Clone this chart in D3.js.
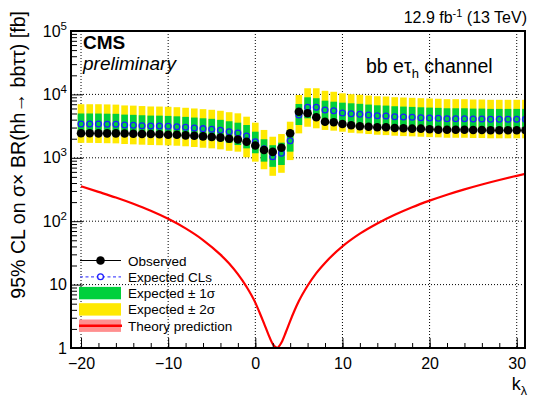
<!DOCTYPE html>
<html><head><meta charset="utf-8">
<script src="https://cdn.jsdelivr.net/npm/d3@7/dist/d3.min.js"></script>
<style>
html,body{margin:0;padding:0;background:#fff;}
svg{display:block;font-family:"Liberation Sans",Arial,Helvetica,sans-serif;}
</style></head><body>
<svg id="chart" width="537" height="401"></svg>
<script>
// ---------------- data ----------------
const kLambda = [-20,-19,-18,-17,-16,-15,-14,-13,-12,-11,-10,-9,-8,-7,-6,-5,-4,-3,-2,-1,
  0,1,2,3,4,5,6,7,8,9,10,11,12,13,14,15,16,17,18,19,20,21,22,23,24,25,26,27,28,29,30,31];
const observed = [2440,2440,2430,2430,2430, 2420,2400,2370,2370,2350, 2310,2310,2260,2230,2180, 2130,2080,2000,1940,1790,
  1560,1330,1240,1440,2440, 5320,5030,4350,3710,3630, 3410,3260,3140,3090,3030, 3030,2950,2920,2880,2880,
  2820,2770,2770,2770,2770, 2750,2750,2720,2720,2720, 2720,2720];
const expected = [3410,3410,3410,3390,3380, 3290,3260,3210,3170,3170, 3140,3090,3030,2950,2880, 2820,2720,2580,2460,2210,
  1790,1390,1040,1180,1860, 4730,6260,6260,5680,5530, 5090,4960,4860,4730,4610, 4560,4450,4400,4350,4290,
  4240,4200,4140,4140,4140, 4090,4090,4050,4050,4050, 4050,4050];
const exp1Up = [5000,5000,4990,4960,4940, 4800,4760,4690,4630,4620, 4580,4510,4420,4310,4200, 4120,3970,3770,3580,3290,
  2580,1960,1580,1730,2750, 7060,9000,8700,7960,7670, 7400,7240,7100,6910,6730, 6660,6500,6420,6350,6260,
  6190,6130,6040,6040,6040, 5970,5970,5910,5910,5910, 5910,5910];
const exp1Down = [2300,2300,2290,2280,2270, 2210,2190,2150,2130,2120, 2100,2070,2030,1980,1930, 1890,1820,1730,1590,1410,
  1180,870,720,770,1250, 3290,4200,4050,3850,3710, 3400,3320,3260,3170,3090, 3060,2980,2950,2910,2870,
  2840,2810,2770,2770,2770, 2740,2740,2710,2710,2710, 2710,2710];
const exp2Up = [7000,7000,7000,6950,6900, 6700,6650,6550,6450,6430, 6380,6280,6150,6000,5850, 5720,5520,5240,5030,4450,
  3580,2750,2150,2370,3710, 9780,12500,12500,11400,11000, 10400,10070,9870,9600,9360, 9260,9030,8930,8830,8710,
  8610,8530,8400,8400,8400, 8300,8300,8220,8220,8220, 8220,8220];
const exp2Down = [1720,1720,1710,1700,1690, 1650,1630,1610,1590,1580, 1570,1550,1520,1480,1440, 1410,1360,1290,1250,1020,
  870,660,520,580,920, 2430,3090,2920,2750,2680, 2580,2480,2430,2370,2310, 2280,2230,2200,2180,2150,
  2120,2100,2070,2070,2070, 2050,2050,2030,2030,2030, 2030,2030];
const theoryK  = [-20,-18,-16,-14,-12,-10,-8,-6,-4,-3,-2,-1,0,0.5,1,1.5,2,2.5,3,3.5,4,4.5,5,6,7,8,10,12,14,16,18,20,22,24,26,28,30,31];
const theoryXS = [355,290,236,188,146,109,77,50.5,29.7,21.5,14.6,9.2,5.2,3.6,2.45,1.64,1.16,1.01,1.22,1.77,2.66,3.9,5.5,9.6,15.2,22,40,63.5,92,126,166,211,262,318,380,447,520,560];
const xMajorTicks = [-20,-10,0,10,20,30];
const xMinorTicks = [-20,-18,-16,-14,-12,-10,-8,-6,-4,-2,0,2,4,6,8,10,12,14,16,18,20,22,24,26,28,30];
const yMajorTicks = [1,10,100,1000,10000,100000];
const yTickLabels = [["1",""],["10",""],["10","2"],["10","3"],["10","4"],["10","5"]];
const legendLabels = ["Observed","Expected CLs","Expected \u00b1 1\u03c3","Expected \u00b1 2\u03c3","Theory prediction"];

// ---------------- layout ----------------
const frame = {left:71, right:525, top:31, bottom:348};
const svg = d3.select("#chart");
const x = d3.scaleLinear().domain([-21.15, 30.95]).range([frame.left, frame.right]);
const y = d3.scaleLog().domain([1, 1e5]).range([frame.bottom, frame.top]);
const YELLOW = "#ffe900", GREEN = "#00d03c", BLUE = "#1c1cff", RED = "#ff0000";

svg.append("defs").append("clipPath").attr("id","clip")
  .append("rect").attr("x",frame.left).attr("y",frame.top)
  .attr("width",frame.right-frame.left).attr("height",frame.bottom-frame.top);

// grid
const grid = svg.append("g").attr("stroke","#000").attr("stroke-width",1).attr("stroke-dasharray","1,2");
grid.selectAll("line.gx").data(xMajorTicks).join("line")
  .attr("x1",d=>x(d)).attr("x2",d=>x(d)).attr("y1",frame.top).attr("y2",frame.bottom);
grid.selectAll("line.gy").data(yMajorTicks.slice(1,5)).join("line")
  .attr("x1",frame.left).attr("x2",frame.right).attr("y1",d=>y(d)).attr("y2",d=>y(d));

const plot = svg.append("g").attr("clip-path","url(#clip)");
const idx = d3.range(kLambda.length);
const hw = 0.38;
plot.selectAll("rect.y2").data(idx).join("rect")
  .attr("x",i=>x(kLambda[i]-hw)).attr("width",i=>x(kLambda[i]+hw)-x(kLambda[i]-hw))
  .attr("y",i=>y(exp2Up[i])).attr("height",i=>y(exp2Down[i])-y(exp2Up[i]))
  .attr("fill",YELLOW);
plot.selectAll("rect.g1").data(idx).join("rect")
  .attr("x",i=>x(kLambda[i]-hw)).attr("width",i=>x(kLambda[i]+hw)-x(kLambda[i]-hw))
  .attr("y",i=>y(exp1Up[i])).attr("height",i=>y(exp1Down[i])-y(exp1Up[i]))
  .attr("fill",GREEN);
plot.selectAll("circle.exp").data(idx).join("circle")
  .attr("cx",i=>x(kLambda[i])).attr("cy",i=>y(expected[i])).attr("r",2.9)
  .attr("fill","none").attr("stroke",BLUE).attr("stroke-width",1.3);
plot.selectAll("circle.obs").data(idx).join("circle")
  .attr("cx",i=>x(kLambda[i])).attr("cy",i=>y(observed[i])).attr("r",4.3)
  .attr("fill","#000");
plot.append("path")
  .datum(d3.range(theoryK.length))
  .attr("d", d3.line().x(i=>x(theoryK[i])).y(i=>y(theoryXS[i])).curve(d3.curveMonotoneX))
  .attr("fill","none").attr("stroke",RED).attr("stroke-width",2.2);

// axes
const fontFam = '"Liberation Sans",Arial,Helvetica,sans-serif';
const gxMinor = svg.append("g").attr("transform",`translate(0,${frame.bottom})`)
  .call(d3.axisBottom(x).tickValues(xMinorTicks).tickSize(-5).tickFormat(""));
gxMinor.select(".domain").remove();
const gxMajor = svg.append("g").attr("transform",`translate(0,${frame.bottom})`)
  .call(d3.axisBottom(x).tickValues(xMajorTicks).tickSize(-10).tickPadding(9.6).tickFormat(d3.format("d")));
gxMajor.select(".domain").remove();
gxMajor.attr("font-size",16).attr("font-family",fontFam);

const yMinor = y.ticks().filter(v => yMajorTicks.indexOf(v) < 0);
const gyMinor = svg.append("g").attr("transform",`translate(${frame.left},0)`)
  .call(d3.axisLeft(y).tickValues(yMinor).tickSize(-6).tickFormat(""));
gyMinor.select(".domain").remove();
const gyMajor = svg.append("g").attr("transform",`translate(${frame.left},0)`)
  .call(d3.axisLeft(y).tickValues(yMajorTicks).tickSize(-12).tickPadding(4).tickFormat(""));
gyMajor.select(".domain").remove();
gyMajor.attr("font-size",16).attr("font-family",fontFam);
gyMajor.selectAll(".tick text").each(function(d,i){
  const t = d3.select(this);
  t.text(null);
  t.append("tspan").text(yTickLabels[i][0]);
  if (yTickLabels[i][1]) t.append("tspan").attr("dy","-7").attr("font-size",11.5).text(yTickLabels[i][1]);
});

// frame
svg.append("rect").attr("x",frame.left).attr("y",frame.top)
  .attr("width",frame.right-frame.left).attr("height",frame.bottom-frame.top)
  .attr("fill","none").attr("stroke","#000").attr("stroke-width",2);

// titles
const xt = svg.append("text").attr("x",527).attr("y",390).attr("text-anchor","end")
  .attr("font-size",18);
xt.append("tspan").text("k");
xt.append("tspan").attr("dy",5).attr("font-size",12.5).text("\u03bb");

svg.append("text").attr("transform","translate(24.5,11) rotate(-90)")
  .attr("text-anchor","end").attr("font-size",19.6)
  .text("95% CL on \u03c3\u00d7 BR(hh\u2192 bb\u03c4\u03c4) [fb]");

const lumi = svg.append("text").attr("x",527).attr("y",23).attr("text-anchor","end").attr("font-size",16);
lumi.append("tspan").text("12.9 fb");
lumi.append("tspan").attr("dy",-6).attr("font-size",11).text("-1");
lumi.append("tspan").attr("dy",6).text(" (13 TeV)");

svg.append("text").attr("x",83).attr("y",49).attr("font-size",19).attr("font-weight","bold").text("CMS");
svg.append("text").attr("x",83).attr("y",70).attr("font-size",19).attr("font-style","italic").text("preliminary");

const ch = svg.append("text").attr("x",366).attr("y",73).attr("font-size",19.5);
ch.append("tspan").text("bb e\u03c4");
ch.append("tspan").attr("dy",5).attr("font-size",13).text("h");
ch.append("tspan").attr("dy",-5).text(" channel");

// legend
const legY = [260.5, 276.8, 293.1, 309.4, 325.7];
const lg = svg.append("g");
const lx0 = 80, lx1 = 121, lxc = 100.5;
lg.append("line").attr("x1",lx0).attr("x2",lx1).attr("y1",legY[0]).attr("y2",legY[0]).attr("stroke","#000").attr("stroke-width",1);
lg.append("circle").attr("cx",lxc).attr("cy",legY[0]).attr("r",4.3).attr("fill","#000");
lg.append("line").attr("x1",lx0).attr("x2",lx1).attr("y1",legY[1]).attr("y2",legY[1]).attr("stroke","#5050ff").attr("stroke-width",1.3).attr("stroke-dasharray","3,2.5");
lg.append("circle").attr("cx",lxc).attr("cy",legY[1]).attr("r",2.9).attr("fill","#fff").attr("stroke",BLUE).attr("stroke-width",1.3);
lg.append("rect").attr("x",lx0-1).attr("y",legY[2]-6.2).attr("width",42).attr("height",12.4).attr("fill",GREEN);
lg.append("rect").attr("x",lx0-1).attr("y",legY[3]-6.2).attr("width",42).attr("height",12.4).attr("fill",YELLOW);
lg.append("rect").attr("x",lx0-1).attr("y",legY[4]-6.2).attr("width",42).attr("height",12.4).attr("fill","#ff8f8f");
lg.append("line").attr("x1",lx0-1).attr("x2",lx1+1).attr("y1",legY[4]).attr("y2",legY[4]).attr("stroke",RED).attr("stroke-width",2.5);
lg.selectAll("text").data(legendLabels).join("text")
  .attr("x",128).attr("y",(d,i)=>legY[i]+5).attr("font-size",13.5).text(d=>d);
</script>
</body></html>
